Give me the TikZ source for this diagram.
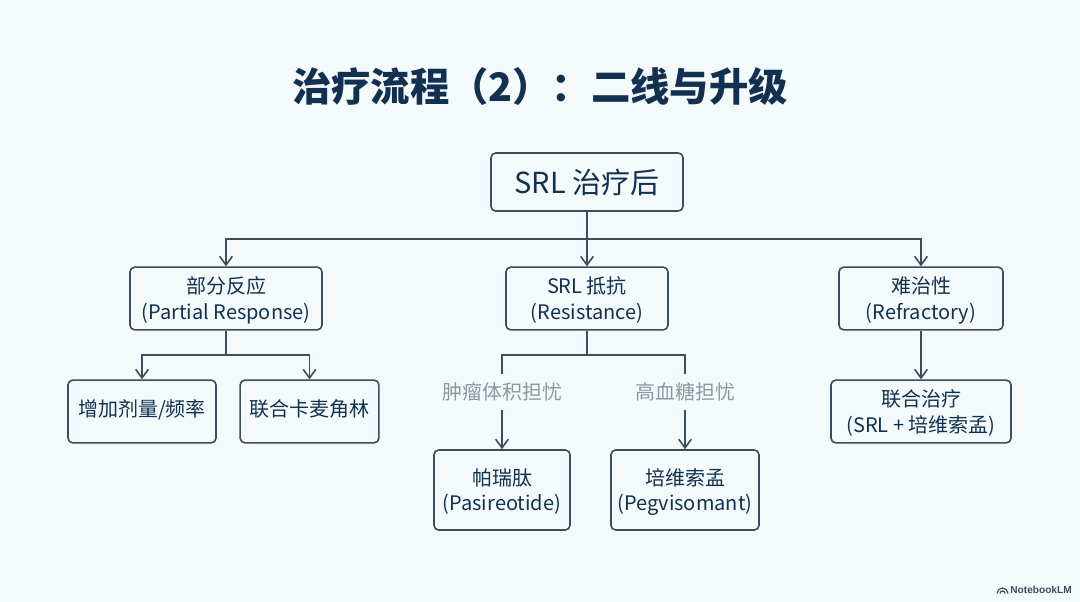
\documentclass[tikz,border=0pt]{standalone}
\usepackage{fontspec}
\setmainfont{Noto Sans CJK SC}
\newfontfamily\logofont{Liberation Sans}
\usetikzlibrary{arrows.meta}
\definecolor{pagebg}{HTML}{F4FAFC}
\definecolor{inkdark}{HTML}{12304F}
\definecolor{linedark}{HTML}{3C4D5E}
\definecolor{graylabel}{HTML}{8E989F}
\tikzset{
  box/.style={draw=linedark,line width=1.2pt,rounded corners=3.5pt,text=inkdark,align=center,inner sep=0pt,
    font=\fontsize{15}{19}\selectfont},
  twoline/.style={box,text depth=.5pt},
  oneline/.style={box,text depth=5pt},
  flow/.style={draw=linedark,line width=1.2pt,-{Straight Barb[length=6.5pt,width=9.5pt]}},
  link/.style={draw=linedark,line width=1.2pt},
  choice/.style={text=graylabel,inner sep=0pt,minimum height=27pt,font=\fontsize{15}{18}\selectfont}
}
\begin{document}
\begin{tikzpicture}[x=.75pt,y=-.75pt]
  \fill[pagebg] (0,0) rectangle (1080,602);
  \useasboundingbox (0,0) rectangle (1080,602);

  \node[text=inkdark,font=\fontsize{29.5}{34}\bfseries\selectfont] (title) at (540,87) {治疗流程（2）：二线与升级};

  \node[box,minimum width=144pt,minimum height=43.5pt,font=\fontsize{21.7}{26}\selectfont] (root) at (587,182) {SRL 治疗后};

  \node[twoline,minimum width=144pt,minimum height=47pt] (partial) at (226,298.5) {部分反应\\(Partial Response)};
  \node[twoline,minimum width=121.5pt,minimum height=47pt] (resist) at (587,298.5) {SRL 抵抗\\(Resistance)};
  \node[twoline,minimum width=123pt,minimum height=47pt] (refract) at (921,298.5) {难治性\\(Refractory)};

  \node[oneline,minimum width=111pt,minimum height=47pt] (dose) at (142,411.5) {增加剂量/频率};
  \node[oneline,minimum width=104pt,minimum height=47pt] (caber) at (309.5,411.5) {联合卡麦角林};
  \node[twoline,minimum width=135pt,minimum height=47pt] (combo) at (921,411.5) {联合治疗\\(SRL + 培维索孟)};

  \node[choice] (tumor) at (502,392) {肿瘤体积担忧};
  \node[choice] (sugar) at (685,392) {高血糖担忧};
  \node[twoline,minimum width=102pt,minimum height=60pt] (pasi) at (502,490) {帕瑞肽\\(Pasireotide)};
  \node[twoline,minimum width=111pt,minimum height=60pt] (pegv) at (685,490) {培维索孟\\(Pegvisomant)};

  \coordinate (rootbus) at (587,239);
  \coordinate (partbus) at (226,355);
  \coordinate (resbus) at (587,355);

  \draw[link] (root.south) -- (rootbus);
  \foreach \to in {partial,resist,refract}
    \draw[flow] (rootbus) -| (\to.north);

  \draw[link] (partial.south) -- (partbus);
  \foreach \to in {dose,caber}
    \draw[flow] (partbus) -| (\to.north);

  \draw[link] (resist.south) -- (resbus);
  \foreach \to in {tumor,sugar}
    \draw[link] (resbus) -| (\to.north);
  \draw[flow] (tumor.south) -- (pasi.north);
  \draw[flow] (sugar.south) -- (pegv.north);

  \draw[flow] (refract.south) -- (combo.north);

  % logo
  \node[text=linedark,inner sep=0pt,font=\fontsize{7.6}{9}\logofont\bfseries\selectfont,anchor=east] (logo) at (1072,590) {NotebookLM};
  \draw[linedark,line width=.9pt] (997,593.5) arc (180:360:5.5) (1000,593.5) arc (180:360:2.5);
\end{tikzpicture}
\end{document}
